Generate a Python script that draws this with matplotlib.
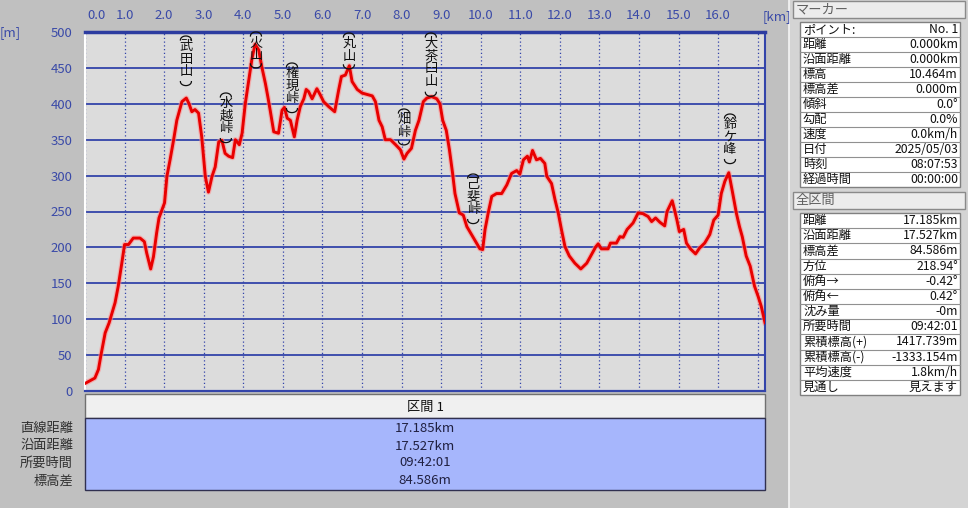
import matplotlib
matplotlib.use('Agg')
import numpy as np
import matplotlib.pyplot as plt
from matplotlib.transforms import ScaledTranslation
from matplotlib.patches import Rectangle

plt.rcParams['font.family'] = ['Noto Sans CJK JP', 'DejaVu Sans']

# ---------------- data ----------------
dist_km = [0.00, 0.25, 0.34, 0.40, 0.51, 0.61, 0.76, 0.84, 0.93, 1.00, 1.10, 1.22, 1.39, 1.50,
           1.56, 1.66, 1.73, 1.81, 1.87, 2.01, 2.07, 2.15, 2.24, 2.32, 2.45, 2.56, 2.63, 2.70,
           2.78, 2.87, 2.95, 3.04, 3.12, 3.21, 3.29, 3.38, 3.46, 3.54, 3.63, 3.73, 3.80, 3.90,
           3.97, 4.05, 4.14, 4.22, 4.30, 4.39, 4.47, 4.56, 4.62, 4.68, 4.77, 4.89, 4.98, 5.04,
           5.11, 5.19, 5.29, 5.36, 5.44, 5.53, 5.59, 5.65, 5.74, 5.86, 5.95, 6.03, 6.16, 6.31,
           6.41, 6.48, 6.58, 6.68, 6.75, 6.88, 7.00, 7.13, 7.26, 7.34, 7.43, 7.51, 7.59, 7.72,
           7.85, 7.97, 8.06, 8.14, 8.25, 8.35, 8.44, 8.55, 8.64, 8.76, 8.89, 8.97, 9.04, 9.13,
           9.21, 9.29, 9.35, 9.46, 9.56, 9.65, 9.82, 9.98, 10.05, 10.11, 10.19, 10.28, 10.40,
           10.53, 10.66, 10.78, 10.91, 10.99, 11.08, 11.18, 11.23, 11.31, 11.41, 11.51, 11.62,
           11.67, 11.79, 11.88, 11.96, 12.04, 12.13, 12.24, 12.38, 12.53, 12.68, 12.80, 12.91,
           12.97, 13.05, 13.22, 13.28, 13.43, 13.52, 13.60, 13.70, 13.85, 13.98, 14.10, 14.23,
           14.32, 14.42, 14.53, 14.65, 14.71, 14.84, 14.90, 14.96, 15.02, 15.13, 15.20, 15.30,
           15.43, 15.53, 15.66, 15.79, 15.89, 16.00, 16.08, 16.17, 16.27, 16.37, 16.46, 16.54,
           16.61, 16.71, 16.81, 16.92, 17.01, 17.09, 17.185]
elev_m = [10.5, 18, 30, 49, 81, 95, 123, 146, 178, 204, 204, 213, 213, 208,
          192, 170, 187, 220, 241, 262, 299, 322, 350, 377, 403, 408, 400, 389,
          392, 387, 354, 299, 277, 299, 312, 347, 349, 331, 327, 325, 350, 343,
          359, 400, 433, 463, 483, 475, 451, 428, 410, 391, 361, 359, 391, 395,
          380, 377, 354, 377, 396, 407, 420, 417, 407, 421, 412, 403, 396, 389,
          419, 438, 440, 453, 431, 420, 415, 413, 411, 403, 377, 368, 350, 350,
          343, 336, 323, 331, 338, 363, 377, 403, 408, 410, 407, 400, 377, 363,
          336, 303, 275, 248, 245, 229, 213, 198, 197, 225, 248, 271, 275,
          275, 287, 303, 307, 302, 322, 327, 319, 335, 322, 324, 317,
          299, 289, 266, 248, 225, 201, 188, 178, 170, 178, 190, 201,
          205, 198, 198, 206, 206, 215, 214, 225, 234, 248, 247, 243,
          236, 241, 235, 230, 250, 265, 252, 238, 222, 225, 206, 198,
          191, 199, 206, 218, 238, 245, 275, 292, 304, 275, 248, 229,
          215, 188, 174, 146, 132, 118, 95.05]

peak_names = ['武田山', '水越峠', '火山', '権現峠', '丸山', '畑峠', '大茶臼山', '己斐峠', '鈴ケ峰']
peak_km = [2.55, 3.56, 4.32, 5.23, 6.67, 8.06, 8.74, 9.81, 16.30]
peak_label_top_px = [35, 92, 31, 62, 32, 108, 32, 173, 113]

x_tick_values = list(range(0, 17))
x_tick_labels = [f'{v}.0' for v in x_tick_values]
y_tick_values = list(range(0, 501, 50))

section_header = '区間 1'
section_labels = ['直線距離', '沿面距離', '所要時間', '標高差']
section_values = ['17.185km', '17.527km', '09:42:01', '84.586m']

marker_title = 'マーカー'
marker_labels = ['ポイント:', '距離', '沿面距離', '標高', '標高差', '傾斜', '勾配', '速度', '日付', '時刻', '経過時間']
marker_values = ['No. 1', '0.000km', '0.000km', '10.464m', '0.000m', '0.0°', '0.0%', '0.0km/h',
                 '2025/05/03', '08:07:53', '00:00:00']

total_title = '全区間'
total_labels = ['距離', '沿面距離', '標高差', '方位', '俯角→', '俯角←', '沈み量', '所要時間',
                '累積標高(+)', '累積標高(-)', '平均速度', '見通し']
total_values = ['17.185km', '17.527km', '84.586m', '218.94°', '-0.42°', '0.42°', '-0m', '09:42:01',
                '1417.739m', '-1333.154m', '1.8km/h', '見えます']

# ---------------- figure ----------------
W, H = 968, 508
AX_L, AX_R, AX_T, AX_B = 85, 765, 32, 391
fig = plt.figure(figsize=(W / 100, H / 100), dpi=100, facecolor='#c0c0c0')

BLUE = '#3344aa'
TICK_BLUE = '#3a4aa8'

ax = fig.add_axes([AX_L / W, 1 - AX_B / H, (AX_R - AX_L) / W, (AX_B - AX_T) / H])
ax.set_facecolor('#dcdcdc')
XMAX, YMAX = 17.185, 500
ax.set_xlim(0, XMAX)
ax.set_ylim(0, YMAX)
PX_PER_KM = (AX_R - AX_L) / XMAX
PX_PER_M = (AX_B - AX_T) / YMAX

for yv in y_tick_values[1:-1]:
    ax.axhline(yv, color=BLUE, lw=1.3, zorder=1)
for xv in range(0, 18):
    ax.axvline(xv, color=BLUE, lw=0.9, ls=(0, (1, 2)), zorder=1)

ax.plot(dist_km, elev_m, color='#ff9090', lw=3.8, alpha=0.6, zorder=2, solid_joinstyle='round')
ax.plot(dist_km, elev_m, color='#e80000', lw=2.1, zorder=3, solid_joinstyle='round')

ax.xaxis.tick_top()
ax.set_xticks(x_tick_values)
ax.set_xticklabels(x_tick_labels)
ax.set_yticks(y_tick_values)
ax.set_yticklabels([str(v) for v in y_tick_values])
ax.tick_params(axis='x', length=0, pad=7, labelsize=9.5, labelcolor=TICK_BLUE)
ax.tick_params(axis='y', length=0, pad=9, labelsize=9.5, labelcolor=TICK_BLUE)
first = ax.get_xticklabels()[0]
first.set_transform(first.get_transform() + ScaledTranslation(0.12, 0, fig.dpi_scale_trans))

ax.spines['top'].set_color('#2c3ca0')
ax.spines['top'].set_linewidth(2.5)
ax.spines['left'].set_color('#ffffff')
ax.spines['left'].set_linewidth(1.5)
ax.spines['bottom'].set_color(BLUE)
ax.spines['bottom'].set_linewidth(1.6)
ax.spines['right'].set_color(BLUE)
ax.spines['right'].set_linewidth(1.5)

# peak labels (vertical writing, parentheses drawn as flat arcs above and below)
STEP = 13.7
t = np.linspace(0, np.pi, 24)


def ypx(d):  # pixel distance below the plot top -> elevation coordinate
    return YMAX - d / PX_PER_M


for name, km, top in zip(peak_names, peak_km, peak_label_top_px):
    dy = top - AX_T
    arc_x = km + 5.5 * np.cos(t) / PX_PER_KM
    ax.plot(arc_x, ypx(dy + 5 - 4.0 * np.sin(t)), color='#101010', lw=0.9, zorder=5, clip_on=False)
    ax.text(km, ypx(dy + 5.0), '\n'.join(name), ha='center', va='top',
            multialignment='center', linespacing=0.97, fontsize=9.5, color='#101010', zorder=5)
    bot = dy + 5.0 + STEP * len(name) + 5.0
    ax.plot(arc_x, ypx(bot - 4.5 + 4.0 * np.sin(t)), color='#101010', lw=0.9, zorder=5, clip_on=False)

# ---------------- overlay (pixel coordinates) ----------------
ov2 = fig.add_axes([0, 0, 1, 1], zorder=3)
ov2.set_xlim(0, W)
ov2.set_ylim(H, 0)
ov2.axis('off')
ov2.patch.set_alpha(0)

ov2.text(10, 33, '[m]', ha='center', va='center', fontsize=9.5, color=TICK_BLUE)

# bottom section table
ov2.add_patch(Rectangle((85, 394), 680, 24, facecolor='#f0f0f0', edgecolor='#707070', lw=1))
ov2.add_patch(Rectangle((85, 418), 680, 72, facecolor='#a6b6fc', edgecolor='#303050', lw=1))
ov2.text(425, 407, section_header, ha='center', va='center', fontsize=9.5, color='#101010')
row_y = [428, 446, 463, 481]
for lab, val, yy in zip(section_labels, section_values, row_y):
    ov2.text(73, yy, lab, ha='right', va='center', fontsize=9.5, color='#303030')
    ov2.text(425, yy, val, ha='center', va='center', fontsize=9.5, color='#202040')

# right panel
ov2.add_patch(Rectangle((789, 0), 179, H, facecolor='#d4d4d4', edgecolor='none'))
ov2.plot([789, 789], [0, H], color='#f4f4f4', lw=1.2)
ov2.text(777, 17, '[km]', ha='center', va='center', fontsize=9.5, color=TICK_BLUE, zorder=10)


def panel(title, y_title, labels, values, y0, row_h):
    ov2.add_patch(Rectangle((793, y_title), 172, 17, facecolor='#ececec', edgecolor='#8a8a8a', lw=1))
    ov2.text(796, y_title + 8.5, title, ha='left', va='center', fontsize=9.5, color='#606060')
    n = len(labels)
    ov2.add_patch(Rectangle((800, y0), 160, row_h * n, facecolor='white', edgecolor='#808080', lw=1))
    for i, (lab, val) in enumerate(zip(labels, values)):
        yc = y0 + row_h * (i + 0.5)
        if i > 0:
            ov2.plot([800, 960], [y0 + row_h * i] * 2, color='#909090', lw=0.8)
        ov2.text(803, yc, lab, ha='left', va='center', fontsize=8.8, color='#101010')
        ov2.text(958, yc, val, ha='right', va='center', fontsize=8.8, color='#101010')


panel(marker_title, 1, marker_labels, marker_values, 22, 15.0)
panel(total_title, 192, total_labels, total_values, 213, 14.0 * 13 / 12)

fig.savefig('out.png', dpi=100, facecolor=fig.get_facecolor())
